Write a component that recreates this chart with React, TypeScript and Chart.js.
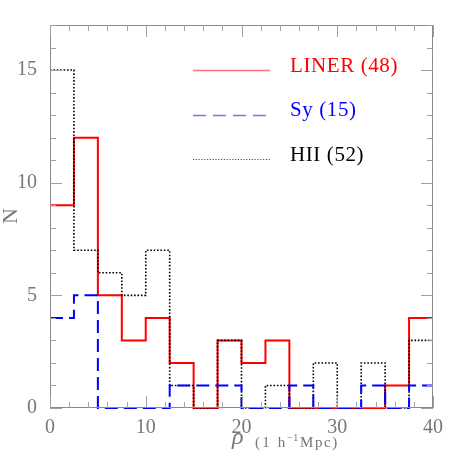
import React, { useEffect, useRef } from 'react';
import { Chart, registerables } from 'chart.js';

Chart.register(...registerables);

// Histogram bins (left edges) and last right edge, in h^-1 Mpc
const binStarts = [0, 2.5, 5, 7.5, 10, 12.5, 15, 17.5, 20, 22.5, 25, 27.5, 30, 32.5, 35, 37.5];
const binEnd = 40;

// Counts per bin
const linerCounts = [9, 12, 5, 3, 4, 2, 0, 3, 2, 3, 0, 0, 0, 0, 1, 4];
const syCounts = [4, 5, 0, 0, 0, 1, 1, 1, 0, 0, 1, 0, 0, 1, 0, 1];
const hiiCounts = [15, 7, 6, 5, 7, 1, 0, 3, 0, 1, 0, 2, 0, 2, 0, 3];

const seriesLabels = ['LINER (48)', 'Sy (15)', 'HII (52)'];

const xTicks = [0, 10, 20, 30, 40];
const yTicks = [0, 5, 10, 15];
const xMinorStep = 2;
const yMinorStep = 1;
const xMin = 0;
const xMax = 40;
const yMin = 0;
const yMax = 17;

const RED = '#ff0000';
const BLUE = '#0000ff';
const BLACK = '#000000';
const AXIS_GREY = '#8a8a8a';
const TICK_GREY = '#a0a0a0';
const LABEL_GREY = '#777777';
const SERIF = '"Liberation Serif", "DejaVu Serif", serif';

function stepPoints(counts: number[]) {
  const pts = binStarts.map((x, i) => ({ x, y: counts[i] }));
  pts.push({ x: binEnd, y: counts[counts.length - 1] });
  return pts;
}

const decorPlugin = {
  id: 'decor',
  afterDraw(chart: any) {
    const { ctx, chartArea, scales } = chart;
    const xs = scales.x;
    const ys = scales.y;
    const { left, right, top, bottom } = chartArea;
    ctx.save();

    // frame
    ctx.strokeStyle = AXIS_GREY;
    ctx.lineWidth = 1;
    ctx.strokeRect(left + 0.5, top + 0.5, right - left - 1, bottom - top - 1);

    // ticks (inward, all four sides)
    ctx.strokeStyle = TICK_GREY;
    ctx.lineWidth = 1;
    ctx.beginPath();
    for (let v = xMin; v <= xMax + 1e-9; v += xMinorStep) {
      const px = Math.round(xs.getPixelForValue(v)) + 0.5;
      const len = xTicks.includes(v) ? 12 : 6;
      ctx.moveTo(px, bottom);
      ctx.lineTo(px, bottom - len);
      ctx.moveTo(px, top);
      ctx.lineTo(px, top + len);
    }
    for (let v = yMin; v <= yMax + 1e-9; v += yMinorStep) {
      const py = Math.round(ys.getPixelForValue(v)) + 0.5;
      const len = yTicks.includes(v) ? 12 : 6;
      ctx.moveTo(left, py);
      ctx.lineTo(left + len, py);
      ctx.moveTo(right, py);
      ctx.lineTo(right - len, py);
    }
    ctx.stroke();

    // legend
    const legendX0 = 193;
    const legendX1 = 270;
    const textX = 290;
    const rows = [
      { y: 70, base: 72, color: RED, dash: [] as number[], width: 1.6, label: seriesLabels[0] },
      { y: 115, base: 116, color: BLUE, dash: [13, 7], width: 1.6, label: seriesLabels[1] },
      { y: 159, base: 161, color: BLACK, dash: [1.2, 1.6], width: 1, label: seriesLabels[2] },
    ];
    rows.forEach((r) => {
      ctx.beginPath();
      ctx.strokeStyle = r.color;
      ctx.globalAlpha = r.color === BLACK ? 0.7 : 0.55;
      ctx.lineWidth = r.width;
      ctx.setLineDash(r.dash);
      ctx.moveTo(legendX0, r.y + 0.5);
      ctx.lineTo(legendX1, r.y + 0.5);
      ctx.stroke();
      ctx.setLineDash([]);
      ctx.globalAlpha = 1;
      ctx.fillStyle = r.color;
      ctx.font = `21px ${SERIF}`;
      ctx.textAlign = 'left';
      ctx.textBaseline = 'alphabetic';
      (ctx as any).letterSpacing = '0.6px';
      ctx.fillText(r.label, textX, r.base);
      (ctx as any).letterSpacing = '0px';
    });

    // y title "N"
    ctx.save();
    ctx.translate(11, 216);
    ctx.rotate(-Math.PI / 2);
    ctx.fillStyle = LABEL_GREY;
    ctx.font = `22px ${SERIF}`;
    ctx.textAlign = 'center';
    ctx.textBaseline = 'middle';
    ctx.fillText('N', 0, 0);
    ctx.restore();

    // x title  ρ (1 h⁻¹Mpc)
    ctx.fillStyle = LABEL_GREY;
    ctx.textAlign = 'left';
    ctx.textBaseline = 'alphabetic';
    ctx.font = `italic 24px ${SERIF}`;
    ctx.fillText('ρ', 232, 444);
    ctx.font = `15px ${SERIF}`;
    (ctx as any).letterSpacing = '2.2px';
    ctx.fillText('(1 h', 255, 447);
    ctx.font = `10px ${SERIF}`;
    (ctx as any).letterSpacing = '0.5px';
    ctx.fillText('−1', 287, 441);
    ctx.font = `15px ${SERIF}`;
    (ctx as any).letterSpacing = '1.6px';
    ctx.fillText('Mpc)', 300, 447);
    (ctx as any).letterSpacing = '0px';

    ctx.restore();
  },
};

export default function App() {
  const canvasRef = useRef<HTMLCanvasElement | null>(null);

  useEffect(() => {
    const canvas = canvasRef.current;
    if (!canvas) return;
    const chart = new Chart(canvas, {
      type: 'line',
      data: {
        datasets: [
          {
            label: seriesLabels[0],
            data: stepPoints(linerCounts),
            stepped: true,
            borderColor: RED,
            borderWidth: 2,
            pointRadius: 0,
            fill: false,
            clip: false as any,
            order: 3,
          },
          {
            label: seriesLabels[2],
            data: stepPoints(hiiCounts),
            stepped: true,
            borderColor: BLACK,
            borderWidth: 1.6,
            borderDash: [1.6, 1.8],
            pointRadius: 0,
            fill: false,
            clip: false as any,
            order: 2,
          },
          {
            label: seriesLabels[1],
            data: stepPoints(syCounts),
            stepped: true,
            borderColor: BLUE,
            borderWidth: 2,
            borderDash: [13, 6],
            pointRadius: 0,
            fill: false,
            clip: false as any,
            order: 1,
          },
        ],
      },
      options: {
        responsive: false,
        animation: false,
        layout: { padding: { top: 24, right: 24, left: 0, bottom: 0 } },
        plugins: {
          legend: { display: false },
          tooltip: { enabled: false },
          title: { display: false },
        },
        elements: { line: { tension: 0, borderJoinStyle: 'miter' } },
        scales: {
          x: {
            type: 'linear',
            min: xMin,
            max: xMax,
            grid: { display: false, drawTicks: false },
            border: { display: false },
            afterBuildTicks: (scale: any) => {
              scale.ticks = xTicks.map((v) => ({ value: v }));
            },
            afterFit: (scale: any) => {
              scale.height = 49;
            },
            ticks: {
              padding: 8,
              color: LABEL_GREY,
              font: { family: SERIF, size: 20 },
              maxRotation: 0,
              autoSkip: false,
              callback: (v: any) => String(v),
            },
          },
          y: {
            type: 'linear',
            min: yMin,
            max: yMax,
            grid: { display: false, drawTicks: false },
            border: { display: false },
            afterBuildTicks: (scale: any) => {
              scale.ticks = yTicks.map((v) => ({ value: v }));
            },
            afterFit: (scale: any) => {
              scale.width = 50;
            },
            ticks: {
              padding: 13,
              color: LABEL_GREY,
              font: { family: SERIF, size: 20 },
              autoSkip: false,
              callback: (v: any) => String(v),
            },
          },
        },
      } as any,
      plugins: [decorPlugin],
    });
    return () => chart.destroy();
  }, []);

  return (
    <div style={{ position: 'fixed', left: 0, top: 0, width: 457, height: 457, background: '#ffffff' }}>
      <canvas ref={canvasRef} width={457} height={457} style={{ display: 'block' }} />
    </div>
  );
}
